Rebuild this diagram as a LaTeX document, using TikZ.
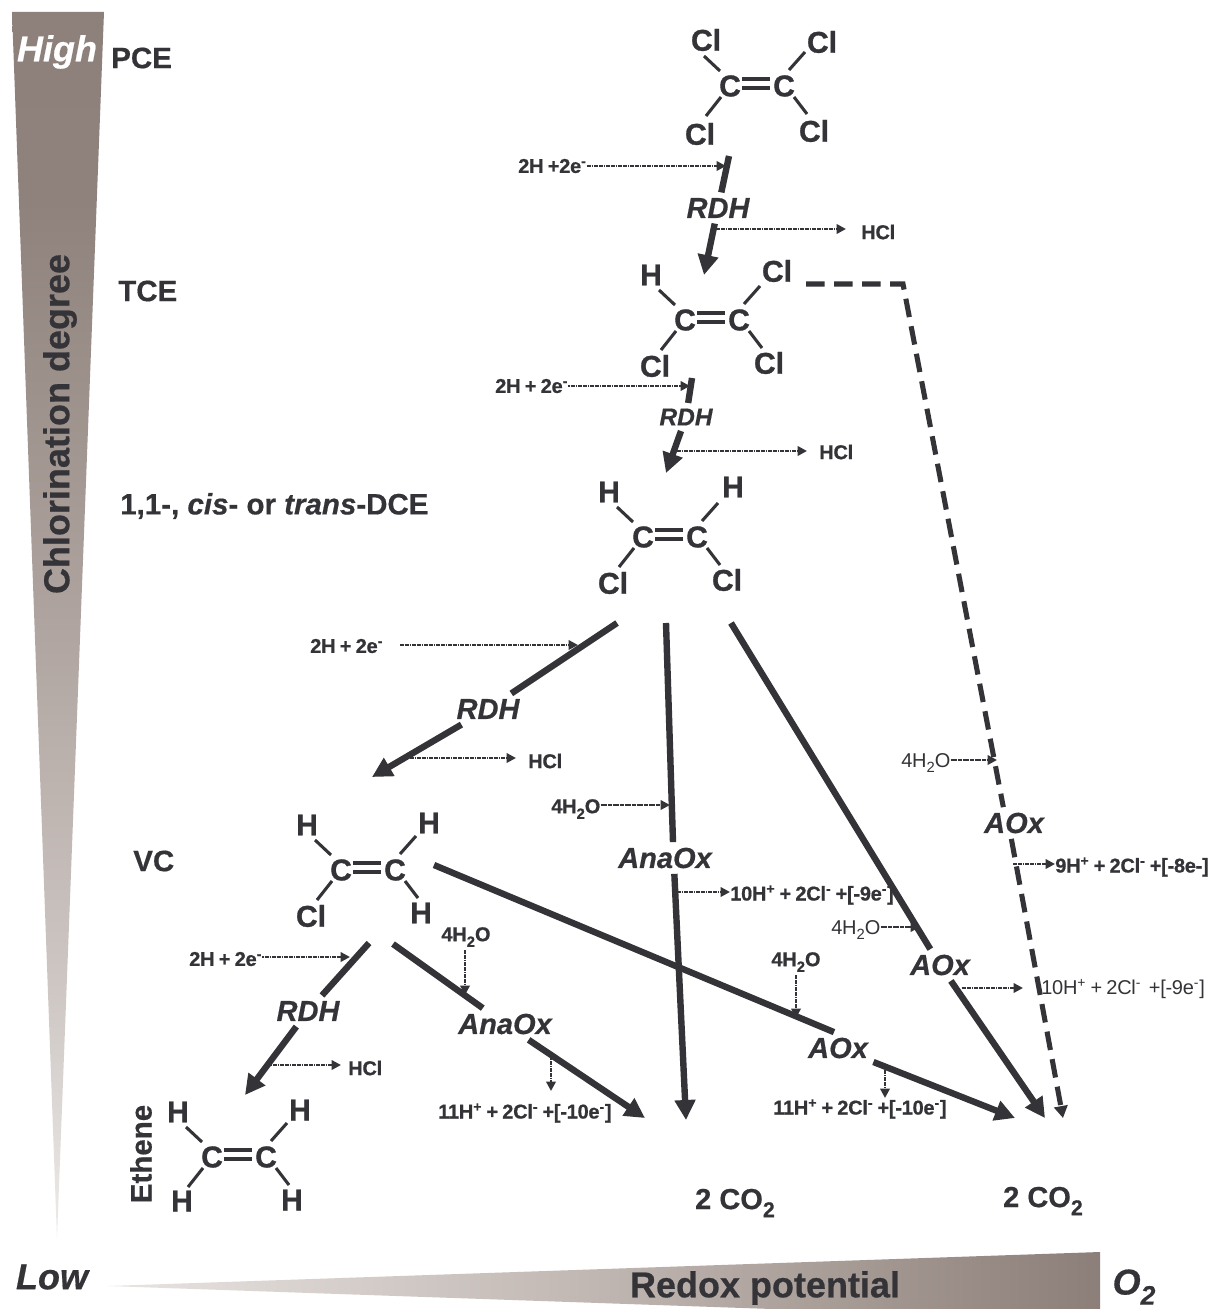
\documentclass[tikz,border=0pt]{standalone}
\usepackage{fontspec}
\setmainfont{Liberation Sans}[BoldFeatures={FakeBold=0.5},BoldItalicFeatures={FakeBold=0.5}]
\newfontfamily\atomfam{Liberation Sans}[BoldFeatures={FakeBold=1.1}]
\newfontfamily\tightfam{Liberation Sans}[BoldFeatures={FakeBold=0.7},WordSpace=0.8,LetterSpace=-1.3]
\usetikzlibrary{arrows.meta}
\definecolor{ink}{HTML}{333338}
\definecolor{wa}{HTML}{EDEBE9}
\definecolor{wb}{HTML}{CFC8C5}
\definecolor{wc}{HTML}{ADA29D}
\definecolor{wd}{HTML}{8F827D}
\definecolor{we}{HTML}{8E817C}
\definecolor{ha}{HTML}{E8E4E2}
\definecolor{hb}{HTML}{C0B6B1}
\definecolor{hc}{HTML}{8C7E78}
\pgfdeclareverticalshading{chlorshade}{100bp}{color(0bp)=(wa); color(25bp)=(wa); color(34.7bp)=(wb); color(51bp)=(wc); color(67.3bp)=(wd); color(75bp)=(we); color(100bp)=(we)}
\pgfdeclarehorizontalshading{redoxshade}{100bp}{color(0bp)=(ha); color(25bp)=(ha); color(50bp)=(hb); color(75bp)=(hc); color(100bp)=(hc)}
\newcommand{\pxfont}[1]{\fontsize{\dimexpr#1pt*3/4\relax}{\dimexpr#1pt*9/10\relax}\selectfont}
\newcommand{\sups}[1]{\textsuperscript{#1}}
\newcommand{\subs}[1]{\raisebox{-0.28em}{\fontsize{0.74em}{0.74em}\selectfont #1}}
\tikzset{
  atomlabel/.style={text=ink,font=\pxfont{30}\atomfam\bfseries,inner sep=2.2pt},
  bondline/.style={draw=ink,line width=2.3pt},
  dblline/.style={draw=ink,line width=2.8pt},
  species/.style={text=ink,font=\pxfont{29.5}\bfseries,inner sep=0pt},
  big/.style={text=ink,font=\pxfont{36}\bfseries,inner sep=0pt},
  bigital/.style={text=ink,font=\pxfont{36}\bfseries\itshape,inner sep=0pt},
  enzyme/.style={text=ink,font=\pxfont{29}\bfseries\itshape,inner sep=4pt},
  enzymesmall/.style={text=ink,font=\pxfont{24.5}\bfseries\itshape,inner sep=4pt},
  smallbold/.style={text=ink,font=\pxfont{20}\tightfam\bfseries,inner sep=0pt},
  smallreg/.style={text=ink,font=\pxfont{20}\tightfam,inner sep=0pt},
  mainline/.style={draw=ink,line width=4.8pt},
  mainarrow/.style={mainline,-{Triangle[length=15pt,width=15pt]}},
  dashline/.style={draw=ink,line width=3.8pt,dash pattern=on 14pt off 7pt},
  dasharrow/.style={dashline,-{Triangle[length=9pt,width=10pt]}},
  dotarrow/.style={draw=ink,line width=2.2pt,dash pattern=on 1.4pt off 0.4pt,-{Triangle[length=7pt,width=7pt]}},
}
\newcommand{\atomsfour}[9]{
  \node[atomlabel] (#1c1) at (#2) {C};
  \node[atomlabel] (#1c2) at (#3) {C};
  \node[atomlabel] (#1a) at (#4) {#5};
  \node[atomlabel] (#1b) at (#6) {#7};
  \node[atomlabel] (#1c) at (#8) {#9};
}
\newcommand{\bondsfour}[3]{
  \node[atomlabel] (#1d) at (#2) {#3};
  \draw[bondline] ([shift={(-26,-30)}]#1c1.center) -- ([shift={(-10,-15)}]#1c1.center);
  \draw[bondline] ([shift={(21,-34)}]#1c2.center) -- ([shift={(5,-16)}]#1c2.center);
  \draw[bondline] ([shift={(-24,30)}]#1c1.center) -- ([shift={(-9,11)}]#1c1.center);
  \draw[bondline] ([shift={(23,28)}]#1c2.center) -- ([shift={(10,11)}]#1c2.center);
  \draw[dblline] ([shift={(12,-7)}]#1c1.center) -- ([shift={(-14,-7)}]#1c2.center);
  \draw[dblline] ([shift={(12,2)}]#1c1.center) -- ([shift={(-14,2)}]#1c2.center);
}
\begin{document}
\begin{tikzpicture}[x=0.75pt,y=-0.75pt]
\useasboundingbox (0,0) rectangle (1208,1309);
\fill[white] (0,0) rectangle (1208,1309);

% wedges
\shade[shading=chlorshade] (12,12) -- (104,12) -- (57,1238) -- cycle;
\shade[shading=redoxshade] (108,1286) -- (1100,1252) -- (1100,1309) -- (772,1309) -- cycle;

\node[bigital,text=white] (high) at (57,52) {High};
\node[big,rotate=90] (chlor) at (60,424) {Chlorination degree};
\node[bigital] (low) at (52,1277) {Low};
\node[big] (redox) at (765,1288) {Redox potential};
\node[bigital] (otwo) at (1134,1287) {O\subs{2}};

% species labels
\node[species,anchor=west] (pce) at (111,58) {PCE};
\node[species,anchor=west] (tce) at (118,291) {TCE};
\node[species,anchor=west] (dce) at (120,506) {1,1-, \textit{cis}- or \textit{trans}-DCE};
\node[species,anchor=west] (vc) at (133,861) {VC};
\node[species,rotate=90] (ethene) at (141,1154) {Ethene};

% molecules
\atomsfour{p}{730,86}{784,86}{706,40}{Cl}{822,42}{Cl}{700,134}{Cl}
\bondsfour{p}{814,131}{Cl}
\atomsfour{t}{685,320}{739,320}{651,275}{H}{777,271}{Cl}{655,366}{Cl}
\bondsfour{t}{769,363}{Cl}
\atomsfour{d}{643,537}{697,537}{609,492}{H}{733,487}{H}{613,583}{Cl}
\bondsfour{d}{727,580}{Cl}
\atomsfour{v}{341,870}{395,870}{307,825}{H}{429,823}{H}{311,916}{Cl}
\bondsfour{v}{421,913}{H}
\atomsfour{e}{212,1157}{266,1157}{178,1112}{H}{300,1110}{H}{182,1201}{H}
\bondsfour{e}{292,1200}{H}

% enzyme labels
\node[enzyme] (rdha) at (718,208) {RDH};
\node[enzymesmall] (rdhb) at (686,417) {RDH};
\node[enzyme] (rdhc) at (488,709) {RDH};
\node[enzyme] (rdhd) at (308,1011) {RDH};
\node[enzyme] (anam) at (665,858) {AnaOx};
\node[enzyme] (anav) at (505,1024) {AnaOx};
\node[enzyme] (aoxv) at (838,1048) {AOx};
\node[enzyme] (aoxd) at (940,965) {AOx};
\node[enzyme] (aoxt) at (1014,823) {AOx};

% product labels
\node[big,font=\pxfont{29}\bfseries] (coa) at (735,1203) {2 CO\subs{2}};
\node[big,font=\pxfont{29}\bfseries] (cob) at (1043,1201) {2 CO\subs{2}};

% connector ends
\coordinate (pstart) at (729,156);
\coordinate (ptip) at (704,275);
\coordinate (tstart) at (692,378);
\coordinate (ttip) at (666,473);
\coordinate (dsa) at (617,623);
\coordinate (dsb) at (666,623);
\coordinate (dsc) at (731,623);
\coordinate (dtipa) at (372,777);
\coordinate (dtipb) at (686,1120);
\coordinate (dtipc) at (1045,1118);
\coordinate (vsa) at (369,943);
\coordinate (vsb) at (393,944);
\coordinate (vsc) at (434,865);
\coordinate (vtipa) at (245,1095);
\coordinate (vtipb) at (645,1118);
\coordinate (vtipc) at (1015,1118);
\coordinate (dashs) at (806,284);
\coordinate (dashk) at (903,284);
\coordinate (dashtip) at (1063,1118);

% main connectors
\draw[mainline] (pstart) -- (rdha);
\draw[mainarrow] (rdha) -- (ptip);
\draw[mainline] (tstart) -- (rdhb);
\draw[mainarrow] (rdhb) -- (ttip);
\draw[mainline] (dsa) -- (rdhc);
\draw[mainarrow] (rdhc) -- (dtipa);
\draw[mainline] (dsb) -- ([xshift=6pt]anam.north);
\draw[mainarrow] ([xshift=7pt]anam.south) -- (dtipb);
\draw[mainline] (dsc) -- (aoxd);
\draw[mainarrow] (aoxd) -- (dtipc);
\draw[mainline] (vsa) -- (rdhd);
\draw[mainarrow] (rdhd) -- (vtipa);
\draw[mainline] (vsb) -- (anav);
\draw[mainarrow] (anav) -- (vtipb);
\draw[mainline] (vsc) -- ([xshift=-3pt]aoxv.north);
\draw[mainarrow] (aoxv) -- (vtipc);
\draw[dashline] (dashs) -- (dashk) -- ([xshift=-8pt]aoxt.north);
\draw[dasharrow] ([xshift=-2pt]aoxt.south) -- (dashtip);

% side reactants and products
\node[smallbold,anchor=west] (ra) at (518,166) {2H +2e\sups{-}};
\coordinate (ran) at (726,166);
\draw[dotarrow] (ra.east |- ran) -- (ran);
\coordinate (hcas) at (716,229);
\node[smallbold,anchor=west] (hca) at (861,232) {HCl};
\coordinate (hcae) at (846,229);
\draw[dotarrow] (hcas) -- (hcae);

\node[smallbold,anchor=west] (rb) at (495,386) {2H + 2e\sups{-}};
\coordinate (rbn) at (690,386);
\draw[dotarrow] (rb.east |- rbn) -- (rbn);
\coordinate (hcbs) at (672,451);
\node[smallbold,anchor=west] (hcb) at (819,452) {HCl};
\coordinate (hcbe) at (807,451);
\draw[dotarrow] (hcbs) -- (hcbe);

\node[smallbold,anchor=west] (rc) at (310,646) {2H + 2e\sups{-}};
\coordinate (rcs) at (400,645);
\coordinate (rcn) at (578,645);
\draw[dotarrow] (rcs) -- (rcn);
\coordinate (hccs) at (405,758);
\node[smallbold,anchor=west] (hcc) at (528,761) {HCl};
\coordinate (hcce) at (516,758);
\draw[dotarrow] (hccs) -- (hcce);

\node[smallbold,anchor=west] (rd) at (189,959) {2H + 2e\sups{-}};
\coordinate (rdn) at (350,957);
\draw[dotarrow] (rd.east |- rdn) -- (rdn);
\coordinate (hcds) at (268,1065);
\node[smallbold,anchor=west] (hcd) at (348,1068) {HCl};
\coordinate (hcde) at (341,1065);
\draw[dotarrow] (hcds) -- (hcde);

\node[smallbold,anchor=west] (wa) at (551,809) {4H\subs{2}O};
\coordinate (wan) at (670,805);
\draw[dotarrow] (wa.east |- wan) -- (wan);
\coordinate (pas) at (672,892);
\node[smallbold,anchor=west] (pa) at (730,895) {10H\sups{+} + 2Cl\sups{-} +[-9e\sups{-}]};
\draw[dotarrow] (pas) -- (pas -| pa.west);

\node[smallreg,anchor=west] (wb) at (901,763) {4H\subs{2}O};
\coordinate (wbn) at (997,760);
\draw[dotarrow] (wb.east |- wbn) -- (wbn);
\coordinate (pbs) at (1013,864);
\node[smallbold,anchor=west] (pb) at (1055,867) {9H\sups{+} + 2Cl\sups{-} +[-8e-]};
\draw[dotarrow] (pbs) -- (pbs -| pb.west);

\node[smallreg,anchor=west] (wc) at (831,930) {4H\subs{2}O};
\coordinate (wcn) at (920,927);
\draw[dotarrow] (wc.east |- wcn) -- (wcn);
\coordinate (pcs) at (962,988);
\node[smallreg,anchor=west] (pc) at (1041,989) {10H\sups{+} + 2Cl\sups{-}\, +[-9e\sups{-}]};
\coordinate (pce) at (1023,988);
\draw[dotarrow] (pcs) -- (pce);

\node[smallbold] (wd) at (796,962) {4H\subs{2}O};
\coordinate (wds) at (796,975);
\coordinate (wdn) at (796,1018);
\draw[dotarrow] (wds) -- (wdn);
\coordinate (pds) at (885,1065);
\node[smallbold,anchor=west] (pd) at (773,1109) {11H\sups{+} + 2Cl\sups{-} +[-10e\sups{-}]};
\coordinate (pde) at (885,1098);
\draw[dotarrow] (pds) -- (pde);

\node[smallbold] (we) at (466,937) {4H\subs{2}O};
\coordinate (wes) at (465,950);
\coordinate (wen) at (465,995);
\draw[dotarrow] (wes) -- (wen);
\coordinate (pes) at (551,1056);
\node[smallbold,anchor=west] (pe) at (438,1113) {11H\sups{+} + 2Cl\sups{-} +[-10e\sups{-}]};
\coordinate (pee) at (551,1091);
\draw[dotarrow] (pes) -- (pee);
\end{tikzpicture}
\end{document}
